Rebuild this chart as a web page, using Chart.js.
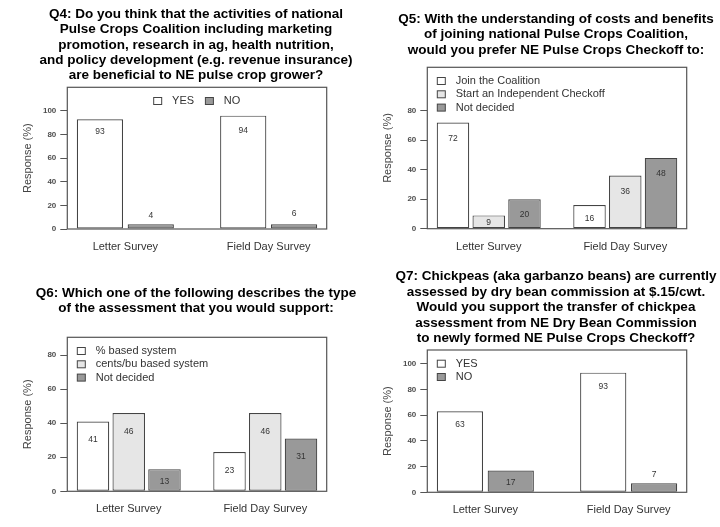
<!DOCTYPE html>
<html>
<head>
<meta charset="utf-8">
<script src="https://cdn.jsdelivr.net/npm/chart.js@4.4.0/dist/chart.umd.min.js"></script>
<style>
  body { margin: 0; background: #fff; }
  canvas { position: absolute; }
</style>
</head>
<body>
<canvas id="q4" width="360" height="260" style="left:0;top:0"></canvas>
<canvas id="q5" width="360" height="260" style="left:360px;top:0"></canvas>
<canvas id="q6" width="360" height="267" style="left:0;top:260px"></canvas>
<canvas id="q7" width="360" height="267" style="left:360px;top:260px"></canvas>
<script>
var groups = ['Letter Survey', 'Field Day Survey'];

// Q4
var q4Title = ['Q4: Do you think that the activities of national',
               'Pulse Crops Coalition including marketing',
               'promotion, research in ag, health nutrition,',
               'and policy development (e.g. revenue insurance)',
               'are beneficial to NE pulse crop grower?'];
var q4Series = ['YES', 'NO'];
var q4Yes = [93, 96];
var q4No = [4, 4];
var q4YesText = [93, 94];
var q4NoText = [4, 6];
var q4Ticks = [0, 20, 40, 60, 80, 100];

// Q5
var q5Title = ['Q5: With the understanding of costs and benefits',
               'of joining national Pulse Crops Coalition,',
               'would you prefer NE Pulse Crops Checkoff to:'];
var q5Series = ['Join the Coalition', 'Start an Independent Checkoff', 'Not decided'];
var q5Join = [72, 16];
var q5Independent = [9, 36];
var q5Undecided = [20, 48];
var q5Ticks = [0, 20, 40, 60, 80];

// Q6
var q6Title = ['Q6: Which one of the following describes the type',
               'of the assessment that you would support:'];
var q6Series = ['% based system', 'cents/bu based system', 'Not decided'];
var q6Percent = [41, 23];
var q6Cents = [46, 46];
var q6Undecided = [13, 31];
var q6Ticks = [0, 20, 40, 60, 80];

// Q7
var q7Title = ['Q7: Chickpeas (aka garbanzo beans) are currently',
               'assessed by dry bean commission at $.15/cwt.',
               'Would you support the transfer of chickpea',
               'assessment from NE Dry Bean Commission',
               'to newly formed NE Pulse Crops Checkoff?'];
var q7Series = ['YES', 'NO'];
var q7Yes = [63, 93];
var q7No = [17, 7];
var q7Ticks = [0, 20, 40, 60, 80, 100];

var FONT = '"Liberation Sans", Arial, sans-serif';
var fills = ['#ffffff', '#e6e6e6', '#999999'];
var fills2 = ['#ffffff', '#999999'];

function labelPos(v) {
  // numbers sit inside the bar, small ones go on top
  return v < 8 ? v + 7 : Math.max(v - 10.7, v * 0.42);
}

var decoPlugin = {
  id: 'deco',
  afterDatasetsDraw: function(chart, args, opts) {
    var ctx = chart.ctx;
    var area = chart.chartArea;
    var yScale = chart.scales.y;
    ctx.save();

    // numbers on bars
    ctx.font = '8.5px ' + FONT;
    ctx.fillStyle = '#333';
    ctx.textAlign = 'center';
    ctx.textBaseline = 'middle';
    chart.data.datasets.forEach(function(ds, i) {
      var meta = chart.getDatasetMeta(i);
      meta.data.forEach(function(bar, j) {
        var t = ds.valueText[j];
        ctx.fillText(String(t), bar.x, yScale.getPixelForValue(labelPos(t)));
      });
    });

    // box around plot
    ctx.strokeStyle = '#555';
    ctx.lineWidth = 1.2;
    ctx.strokeRect(area.left, area.top, area.right - area.left, area.bottom - area.top);

    // legend
    ctx.font = '11px ' + FONT;
    ctx.textAlign = 'left';
    ctx.lineWidth = 1;
    var dsets = chart.data.datasets;
    var ly = area.top + 13.7;
    if (opts.legend === 'row') {
      var total = 0;
      dsets.forEach(function(ds, i) {
        total += 18.4 + ctx.measureText(ds.label).width + (i > 0 ? 11.3 : 0);
      });
      var x = (area.left + area.right) / 2 - total / 2;
      dsets.forEach(function(ds, i) {
        if (i > 0) x += 11.3;
        ctx.fillStyle = ds.backgroundColor;
        ctx.fillRect(x, ly - 3.5, 8, 7);
        ctx.strokeStyle = '#444';
        ctx.strokeRect(x, ly - 3.5, 8, 7);
        ctx.fillStyle = '#333';
        ctx.fillText(ds.label, x + 18.4, ly);
        x += 18.4 + ctx.measureText(ds.label).width;
      });
    } else {
      dsets.forEach(function(ds, i) {
        var y = ly + i * 13.3;
        ctx.fillStyle = ds.backgroundColor;
        ctx.fillRect(area.left + 10, y - 3.5, 8, 7);
        ctx.strokeStyle = '#444';
        ctx.strokeRect(area.left + 10, y - 3.5, 8, 7);
        ctx.fillStyle = '#333';
        ctx.fillText(ds.label, area.left + 28.4, y);
      });
    }

    // title
    ctx.font = 'bold 13.5px ' + FONT;
    ctx.fillStyle = '#000';
    ctx.textAlign = 'center';
    opts.title.forEach(function(line, k) {
      ctx.fillText(line, (area.left + area.right) / 2 - 1, opts.titleY + k * 15.4);
    });
    ctx.restore();
  }
};

function makePanel(id, p) {
  var canvas = document.getElementById(id);
  var H = canvas.height;
  var n = p.values.length;
  var datasets = [];
  for (var i = 0; i < n; i++) {
    datasets.push({
      label: p.series[i],
      data: groups.map(function(g, j) { return { x: j, y: p.values[i][j] }; }),
      valueText: p.texts[i],
      backgroundColor: p.colors[i],
      borderColor: '#444',
      borderWidth: 1.2,
      borderSkipped: false,
      categoryPercentage: n === 3 ? 0.7857 : 0.7097,
      barPercentage: 0.909
    });
  }
  return new Chart(canvas, {
    type: 'bar',
    data: { datasets: datasets },
    plugins: [decoPlugin],
    options: {
      responsive: false,
      animation: false,
      events: [],
      layout: { padding: { top: p.frame[2], right: 360 - p.frame[1], left: 0, bottom: 0 } },
      scales: {
        x: {
          type: 'linear',
          offset: false,
          min: -p.pad,
          max: 1 + p.pad,
          grid: { display: false, drawTicks: false },
          border: { display: false },
          afterBuildTicks: function(scale) { scale.ticks = [{ value: 0 }, { value: 1 }]; },
          afterFit: function(scale) { scale.height = H - p.frame[3]; },
          ticks: {
            autoSkip: false,
            maxRotation: 0,
            padding: 11.5,
            color: '#333',
            font: { family: FONT, size: 11 },
            callback: function(v) { return groups[v]; }
          }
        },
        y: {
          min: 0,
          max: p.ymax,
          afterBuildTicks: function(scale) {
            scale.ticks = p.ticks.map(function(v) { return { value: v }; });
          },
          afterFit: function(scale) { scale.width = p.frame[0]; },
          grid: { drawOnChartArea: false, drawTicks: true, tickLength: 7, color: '#555' },
          border: { display: false },
          ticks: {
            padding: 4,
            color: '#4d4d4d',
            font: { family: FONT, size: 8, weight: 'bold' }
          },
          title: {
            display: true,
            text: 'Response (%)',
            color: '#444',
            font: { family: FONT, size: 11 },
            padding: { top: 21.7, bottom: 0 }
          }
        }
      },
      plugins: {
        legend: { display: false },
        tooltip: { enabled: false },
        deco: { title: p.title, titleY: p.titleY, legend: p.legend }
      }
    }
  });
}

makePanel('q4', {
  series: q4Series, values: [q4Yes, q4No], texts: [q4YesText, q4NoText],
  colors: fills2, ticks: q4Ticks, ymax: 120, pad: 0.405,
  frame: [67.3, 326.7, 87.3, 229], title: q4Title, titleY: 14, legend: 'row'
});
makePanel('q5', {
  series: q5Series, values: [q5Join, q5Independent, q5Undecided],
  texts: [q5Join, q5Independent, q5Undecided],
  colors: fills, ticks: q5Ticks, ymax: 109.4, pad: 0.45,
  frame: [67.3, 326.7, 67.3, 228.7], title: q5Title, titleY: 19, legend: 'column'
});
makePanel('q6', {
  series: q6Series, values: [q6Percent, q6Cents, q6Undecided],
  texts: [q6Percent, q6Cents, q6Undecided],
  colors: fills, ticks: q6Ticks, ymax: 90.4, pad: 0.45,
  frame: [67.3, 326.7, 77.3, 231.3], title: q6Title, titleY: 33.3, legend: 'column'
});
makePanel('q7', {
  series: q7Series, values: [q7Yes, q7No], texts: [q7Yes, q7No],
  colors: fills2, ticks: q7Ticks, ymax: 110.6, pad: 0.405,
  frame: [67.3, 326.7, 90, 232.3], title: q7Title, titleY: 16.7, legend: 'column'
});
</script>
</body>
</html>
